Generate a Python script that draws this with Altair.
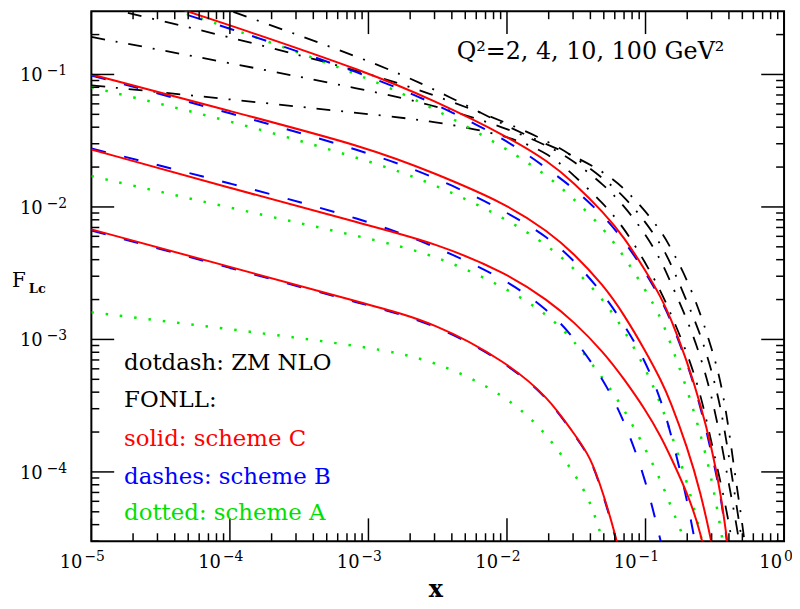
import altair as alt
import pandas as pd

FONT = "DejaVu Serif"

# ---------------- data ----------------
X_GRID = [1e-5, 1e-4, 1e-3, 3e-3, 1e-2, 2e-2, 3e-2, 5e-2, 7e-2, 0.1, 0.13, 0.15,
          0.2, 0.25, 0.3, 0.35, 0.4]
ZM_X = X_GRID + [0.45, 0.5, 0.55]
X_LOW = [1e-5, 1e-4, 1e-3, 3e-3, 1e-2, 2e-2, 3e-2, 4e-2, 5e-2, 6e-2, 7e-2]

# FONLL scheme C (solid red)
C100 = [0.519, 0.236, 0.1035, 0.0633, 0.0342, 0.0220, 0.01542, 0.00905, 0.00592, 0.00331,
        0.00206, 0.001494, 6.84e-4, 3.21e-4, 1.529e-4, 6.89e-5, 2.38e-5]
C10_X = X_GRID[:15] + [0.32]
C10 = [0.1, 0.0530, 0.0281, 0.0180, 0.01052, 0.00648, 0.00451, 0.002547, 0.00154, 8.17e-4,
       4.88e-4, 3.49e-4, 1.545e-4, 7.00e-5, 2.93e-5, 2.09e-5]
C4 = [0.02716, 0.01391, 0.00725, 0.00538, 0.003166, 0.001953, 0.001378, 7.99e-4, 5.03e-4,
      2.94e-4, 1.828e-4, 1.337e-4, 6.96e-5, 3.59e-5, 1.36e-5]
C2 = [0.00677, 0.003527, 0.001838, 0.001341, 6.74e-4, 3.63e-4, 1.977e-4, 1.32e-4, 6.64e-5,
      3.5e-5, 1.76e-5]

# FONLL scheme B (blue dashes)
B100 = [0.476, 0.224, 0.0983, 0.0607, 0.0321, 0.0191, 0.01398, 0.00855, 0.00560, 0.00321,
        0.001986, 0.00145, 6.64e-4, 3.11e-4, 1.379e-4, 6.71e-5, 2.28e-5]
B10 = [0.0983, 0.0512, 0.02585, 0.01694, 0.0092, 0.00585, 0.00402, 0.002197, 0.0013, 6.90e-4,
       3.42e-4, 2.08e-4, 6.32e-5, 1.73e-5]
B4 = [0.02762, 0.01516, 0.0079, 0.00506, 0.002827, 0.001647, 0.00106, 4.96e-4, 2.46e-4,
      8.91e-5, 2.9e-5, 1.48e-5]
B2 = [0.00665, 0.003467, 0.001807, 0.001316, 6.65e-4, 3.58e-4, 1.95e-4, 1.30e-4, 6.5e-5,
      3.4e-5, 1.7e-5]

# FONLL scheme A (green dotted)
A100 = [0.501, 0.2254, 0.0948, 0.0554, 0.02748, 0.0170, 0.01164, 0.00688, 0.00423, 0.002365,
        0.001443, 9.58e-4, 4.24e-4, 1.92e-4, 8.98e-5, 3.69e-5, 1.51e-5]
A10 = [0.0800, 0.0450, 0.02242, 0.01495, 0.00813, 0.00505, 0.003503, 0.001986, 0.00118,
       6.07e-4, 3.18e-4, 2.08e-4, 8.36e-5, 3.45e-5, 1.38e-5]
A4 = [0.0171, 0.00987, 0.0058, 0.00437, 0.002444, 0.001515, 0.001, 5.02e-4, 2.98e-4, 1.49e-4,
      8.44e-5, 5.73e-5, 2.75e-5, 1.48e-5]
A2_X = [1e-5, 1e-4, 1e-3, 3e-3, 1e-2, 2e-2, 3e-2, 4e-2, 5e-2, 7e-2]
A2 = [0.001602, 0.001197, 8.79e-4, 6.98e-4, 3.79e-4, 1.88e-4, 9.97e-5, 6.16e-5, 2.8e-5, 9.7e-6]

# ZM NLO (black dot-dash)
ZM100 = [0.719, 0.303, 0.1284, 0.0777, 0.0406, 0.02913, 0.0245, 0.01836, 0.01393, 0.00930,
         0.0065, 0.00507, 0.00283, 0.00155, 8.60e-4, 4.83e-4, 2.11e-4, 8.36e-5, 4.12e-5, 1.76e-5]
ZM10 = [0.338, 0.1922, 0.1023, 0.070, 0.0432, 0.0311, 0.0243, 0.01634, 0.01202, 0.00775,
        0.00512, 0.00389, 0.00191, 0.001086, 5.83e-4, 3.05e-4, 1.312e-4, 5.91e-5, 2.87e-5, 1.62e-5]
ZM4 = [0.1919, 0.122, 0.0759, 0.0585, 0.0394, 0.02874, 0.0225, 0.01472, 0.01022, 0.00625,
       0.00392, 0.002765, 0.001416, 7.44e-4, 3.75e-4, 1.748e-4, 8.02e-5, 4.22e-5, 2.09e-5]
ZM2 = [0.0828, 0.065, 0.0502, 0.0444, 0.0348, 0.0254, 0.01757, 0.01059, 0.00695, 0.0038,
       0.00227, 0.00162, 7.93e-4, 3.87e-4, 1.649e-4, 8.23e-5, 4.17e-5, 1.92e-5]

# axis ticks and labels
X_MAJOR = [1e-5, 1e-4, 1e-3, 1e-2, 1e-1, 1.0]
X_MINOR = [m * d for d in [1e-5, 1e-4, 1e-3, 1e-2, 1e-1] for m in range(2, 10)]
Y_MAJOR = [1e-4, 1e-3, 1e-2, 1e-1]
Y_MINOR = ([m * 1e-5 for m in range(3, 10)] + [m * d for d in [1e-4, 1e-3, 1e-2] for m in range(2, 10)]
           + [0.2])
X_LABEL_POS = [1e-5, 1e-4, 1e-3, 1e-2, 1e-1]
X_LABEL_EXP = ["−5", "−4", "−3", "−2", "−1"]
Y_LABEL_POS = [1e-1, 1e-2, 1e-3, 1e-4]
Y_LABEL_EXP = ["−1", "−2", "−3", "−4"]

LEGEND = ["dotdash: ZM NLO", "FONLL:", "solid: scheme C", "dashes: scheme B", "dotted: scheme A"]
LEGEND_COLORS = ["black", "black", "#ff0000", "#0000ff", "#00e000"]
LEGEND_BASE = [361, 399, 438, 476, 513]

# ---------------- build tables ----------------
def table(curves):
    rows = []
    for name, xs, ys in curves:
        for xv, yv in zip(xs, ys):
            rows.append({"curve": name, "x": xv, "y": yv})
    return pd.DataFrame(rows)

red = table([("C100", X_GRID, C100), ("C10", C10_X, C10), ("C4", X_GRID[:15], C4), ("C2", X_LOW, C2)])
blue = table([("B100", X_GRID, B100), ("B10", X_GRID[:14], B10), ("B4", X_GRID[:12], B4), ("B2", X_LOW, B2)])
green = table([("A100", X_GRID, A100), ("A10", X_GRID[:15], A10), ("A4", X_GRID[:14], A4), ("A2", A2_X, A2)])
black = table([("Z100", ZM_X, ZM100), ("Z10", ZM_X, ZM10), ("Z4", ZM_X[:19], ZM4), ("Z2", ZM_X[:18], ZM2)])

xscale = alt.Scale(type="log", domain=[1e-5, 1.0], nice=False)
yscale = alt.Scale(type="log", domain=[3e-5, 0.3], nice=False)
X = lambda f="x": alt.X(f"{f}:Q", scale=xscale, axis=None)
Y = lambda f="y": alt.Y(f"{f}:Q", scale=yscale, axis=None)

def lines(df, color, width, dash=None):
    kw = dict(color=color, strokeWidth=width, clip=True, interpolate="basis")
    if dash is not None:
        kw["strokeDash"] = dash
    return alt.Chart(df).mark_line(**kw).encode(x=X(), y=Y(), detail="curve:N")

l_black = lines(black, "black", 1.8, [14, 11, 2, 11])
l_green = lines(green, "#00ee00", 2.5, [2.5, 12])
l_blue = lines(blue, "#0000ff", 2, [15, 19])
l_red = lines(red, "#ff0000", 2)

H = 534
W = 698
xmaj = pd.DataFrame({"v": X_MAJOR})
xmin = pd.DataFrame({"v": X_MINOR})
ymaj = pd.DataFrame({"v": Y_MAJOR})
ymin = pd.DataFrame({"v": Y_MINOR})

def xt(df, y0, y1):
    return alt.Chart(df).mark_rule(color="black", strokeWidth=1.5).encode(
        x=X("v"), y=alt.value(y0), y2=alt.value(y1))

def yt(df, x0, x1):
    return alt.Chart(df).mark_rule(color="black", strokeWidth=1.5).encode(
        y=Y("v"), x=alt.value(x0), x2=alt.value(x1))

ticks = [xt(xmaj, H, H - 23), xt(xmin, H, H - 8), xt(xmaj, 0, 23), xt(xmin, 0, 8),
         yt(ymaj, 0, 23), yt(ymin, 0, 8), yt(ymaj, W, W - 23), yt(ymin, W, W - 8)]

xl = pd.DataFrame({"x": X_LABEL_POS, "e": X_LABEL_EXP, "b": ["10"] * len(X_LABEL_POS)})
yl = pd.DataFrame({"y": Y_LABEL_POS, "e": Y_LABEL_EXP, "b": ["10"] * len(Y_LABEL_POS)})
one = pd.DataFrame({"x": [1.0], "e": ["0"], "b": ["10"]})

labels = [
    alt.Chart(xl).mark_text(align="right", baseline="alphabetic", dx=-9, fontSize=18, font=FONT,
                            color="black").encode(x=X(), y=alt.value(561), text="b:N"),
    alt.Chart(xl).mark_text(align="left", baseline="alphabetic", dx=-7, fontSize=14, font=FONT,
                            color="black").encode(x=X(), y=alt.value(554), text="e:N"),
    alt.Chart(one).mark_text(align="right", baseline="alphabetic", dx=-2, fontSize=18, font=FONT,
                             color="black").encode(x=X(), y=alt.value(561), text="b:N"),
    alt.Chart(one).mark_text(align="left", baseline="alphabetic", dx=0, fontSize=14, font=FONT,
                             color="black").encode(x=X(), y=alt.value(554), text="e:N"),
    alt.Chart(yl).mark_text(align="right", baseline="alphabetic", dy=7, fontSize=18, font=FONT,
                            color="black").encode(y=Y(), x=alt.value(-49), text="b:N"),
    alt.Chart(yl).mark_text(align="left", baseline="alphabetic", dy=1, fontSize=14, font=FONT,
                            color="black").encode(y=Y(), x=alt.value(-45), text="e:N"),
]

leg = pd.DataFrame({"t": LEGEND, "c": LEGEND_COLORS, "b": LEGEND_BASE})
legend = alt.Chart(leg).mark_text(align="left", baseline="alphabetic", fontSize=23, font=FONT).encode(
    x=alt.value(33), y=alt.Y("b:Q", scale=None), text="t:N", color=alt.Color("c:N", scale=None))

titles = pd.DataFrame({"t": ["Q²=2, 4, 10, 100 GeV²"]})
qtext = alt.Chart(titles).mark_text(align="center", baseline="alphabetic", fontSize=24, font=FONT,
                                    color="black").encode(x=alt.value(503), y=alt.value(48), text="t:N")
xtitle = alt.Chart(pd.DataFrame({"t": ["x"]})).mark_text(
    align="center", baseline="alphabetic", fontSize=24, fontWeight="bold", font=FONT, color="black"
).encode(x=alt.value(347), y=alt.value(590), text="t:N")
ytitle_f = alt.Chart(pd.DataFrame({"t": ["F"]})).mark_text(
    align="left", baseline="alphabetic", fontSize=20, font=FONT, color="black"
).encode(x=alt.value(-80), y=alt.value(278), text="t:N")
ytitle_s = alt.Chart(pd.DataFrame({"t": ["Lc"]})).mark_text(
    align="left", baseline="alphabetic", fontSize=13, fontWeight="bold", font=FONT, color="black"
).encode(x=alt.value(-63), y=alt.value(284), text="t:N")

chart = alt.layer(
    l_black, l_green, l_blue, l_red, *ticks, *labels, legend, qtext, xtitle, ytitle_f, ytitle_s
).properties(
    width=W, height=H, autosize="none",
    padding={"left": 84, "top": 1, "right": 8, "bottom": 60},
    background="white",
).configure_view(stroke="black", strokeWidth=2)

chart.save("out.html", embed_options={"renderer": "svg", "actions": False})
